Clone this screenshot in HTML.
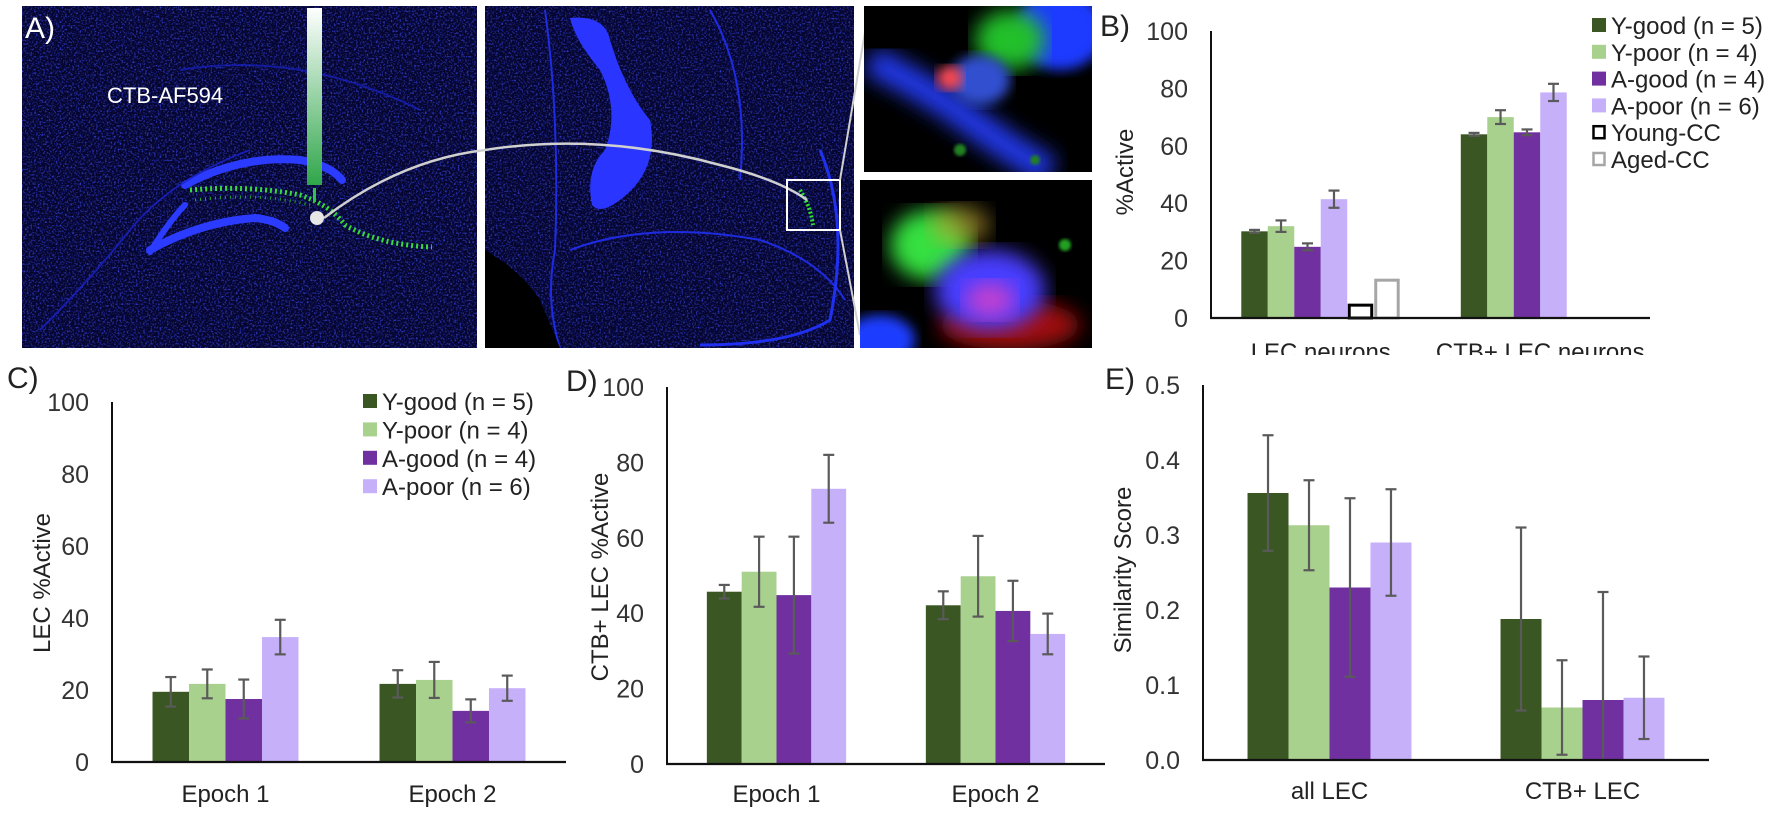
<!DOCTYPE html>
<html>
<head>
<meta charset="utf-8">
<style>
html,body{margin:0;padding:0;background:#fff;}
svg{display:block;font-family:"Liberation Sans",Arial,sans-serif;}
</style>
</head>
<body>
<svg id="fig" width="1784" height="814" viewBox="0 0 1784 814" xmlns="http://www.w3.org/2000/svg">
<defs>
  <filter id="noise" x="0" y="0" width="100%" height="100%">
    <feTurbulence type="fractalNoise" baseFrequency="0.55" numOctaves="2" seed="3" result="t"/>
    <feColorMatrix in="t" type="matrix" values="0 0 0 0 0.05  0 0 0 0 0.08  0 0 0 0 1  0 0 0 2.6 -1.25" />
  </filter>
  <filter id="blur6"><feGaussianBlur stdDeviation="6"/></filter>
  <filter id="blur10"><feGaussianBlur stdDeviation="10"/></filter>
  <filter id="blur2"><feGaussianBlur stdDeviation="1.5"/></filter>
  <linearGradient id="probe" x1="0" y1="0" x2="0" y2="1">
    <stop offset="0" stop-color="#ffffff"/>
    <stop offset="1" stop-color="#2fa64a"/>
  </linearGradient>
  <clipPath id="clipA1"><rect x="22" y="6" width="455" height="342"/></clipPath>
  <clipPath id="clipA2"><rect x="485" y="6" width="369" height="342"/></clipPath>
  <clipPath id="clipI1"><rect x="864" y="6" width="228" height="166"/></clipPath>
  <clipPath id="clipI2"><rect x="860" y="180" width="232" height="168"/></clipPath>
  <clipPath id="clipB"><rect x="1000" y="0" width="784" height="355"/></clipPath>
</defs>

<g clip-path="url(#clipA1)">
  <rect x="22" y="6" width="455" height="342" fill="#05052e"/>
  <rect x="22" y="6" width="455" height="342" filter="url(#noise)" opacity="0.85"/>
  <path d="M185 185 Q240 155 300 160 Q330 165 342 180" stroke="#2b3bff" stroke-width="8" fill="none" stroke-linecap="round"/>
  <path d="M150 250 Q200 222 255 218 Q275 220 285 228" stroke="#2b3bff" stroke-width="8" fill="none" stroke-linecap="round"/>
  <path d="M150 252 Q170 220 185 205" stroke="#2b3bff" stroke-width="6" fill="none" stroke-linecap="round"/>
  <path d="M40 330 Q90 280 130 230 Q170 180 250 150" stroke="#1a22c8" stroke-width="2" fill="none" opacity="0.8"/>
  <path d="M180 70 Q300 50 420 110" stroke="#1a22c8" stroke-width="2" fill="none" opacity="0.7"/>
  <path d="M190 190 Q250 185 300 195 Q330 205 345 225 Q380 245 432 247" stroke="#3cf03c" stroke-width="5" fill="none" stroke-dasharray="2 3" opacity="0.9"/>
  <path d="M195 200 Q260 192 310 205" stroke="#2bd02b" stroke-width="3" fill="none" stroke-dasharray="1 4" opacity="0.8"/>
  <rect x="307" y="8" width="15" height="177" fill="url(#probe)"/>
  <rect x="313" y="188" width="3" height="14" fill="#2fc34a"/>
  <text x="25" y="38" font-size="30" fill="#ffffff">A)</text>
  <text x="107" y="103" font-size="22" fill="#ffffff">CTB-AF594</text>
</g>

<g clip-path="url(#clipA2)">
  <rect x="485" y="6" width="369" height="342" fill="#05052e"/>
  <rect x="485" y="6" width="369" height="342" filter="url(#noise)" opacity="0.8"/>
  <path d="M570 18 Q605 15 610 40 Q625 90 650 120 Q660 170 620 200 Q600 215 592 205 Q585 170 605 150 Q620 110 600 70 Q575 40 570 18 Z" fill="#2a36ff"/>
  <path d="M545 10 Q560 120 555 250 Q545 300 560 348" stroke="#1f2be0" stroke-width="2" fill="none"/>
  <path d="M710 10 Q750 80 740 180" stroke="#1f2be0" stroke-width="2" fill="none"/>
  <path d="M570 250 Q650 220 760 240 Q820 260 845 300" stroke="#1f2be0" stroke-width="2" fill="none"/>
  <path d="M820 150 Q850 220 830 320 Q790 345 700 345" stroke="#2030f0" stroke-width="3" fill="none"/>
  <path d="M485 250 Q520 270 540 300 L560 348 L485 348 Z" fill="#000000"/>
  <path d="M800 190 Q810 205 813 225" stroke="#2ee02e" stroke-width="4" fill="none" stroke-dasharray="2 2"/>
</g>
<path d="M324 218 Q400 160 485 150 Q600 132 720 165 Q780 180 807 200" stroke="#d0d0d0" stroke-width="2.5" fill="none"/>
<circle cx="317" cy="218" r="7" fill="#e6e6e6"/>
<rect x="787" y="180" width="53" height="50" fill="none" stroke="#ffffff" stroke-width="2"/>
<line x1="840" y1="180" x2="865" y2="32" stroke="#d0d0d0" stroke-width="2"/>
<line x1="840" y1="230" x2="860" y2="335" stroke="#d0d0d0" stroke-width="2"/>

<g clip-path="url(#clipI1)">
  <rect x="864" y="6" width="228" height="166" fill="#000"/>
  <path d="M870 60 Q930 90 970 120 Q1010 150 1050 172" stroke="#2438e8" stroke-width="30" fill="none" filter="url(#blur10)"/>
  <ellipse cx="1060" cy="30" rx="45" ry="40" fill="#1f3bff" filter="url(#blur6)"/>
  <ellipse cx="1010" cy="40" rx="35" ry="30" fill="#22c02a" filter="url(#blur10)"/>
  <ellipse cx="980" cy="80" rx="30" ry="25" fill="#3050d0" filter="url(#blur6)"/>
  <ellipse cx="950" cy="78" rx="13" ry="12" fill="#ff4a50" filter="url(#blur6)"/>
  <circle cx="960" cy="150" r="6" fill="#208020" filter="url(#blur2)"/>
  <circle cx="1035" cy="160" r="5" fill="#208020" filter="url(#blur2)"/>
</g>
<g clip-path="url(#clipI2)">
  <rect x="860" y="180" width="232" height="168" fill="#000"/>
  <ellipse cx="1010" cy="325" rx="70" ry="25" fill="#a01010" filter="url(#blur10)"/>
  <ellipse cx="930" cy="245" rx="40" ry="35" fill="#36e040" filter="url(#blur10)"/>
  <ellipse cx="990" cy="290" rx="55" ry="40" fill="#4a3cff" filter="url(#blur10)"/>
  <ellipse cx="990" cy="300" rx="25" ry="18" fill="#c040d0" filter="url(#blur10)"/>
  <ellipse cx="960" cy="225" rx="30" ry="20" fill="#c0a030" filter="url(#blur10)" opacity="0.6"/>
  <ellipse cx="880" cy="340" rx="35" ry="25" fill="#1e3cff" filter="url(#blur6)"/>
  <circle cx="1065" cy="245" r="6" fill="#20a020" filter="url(#blur2)"/>
</g>

<g id="charts"></g>
</svg>

<script>
const seriesNames = ['Y-good (n = 5)', 'Y-poor  (n = 4)', 'A-good (n = 4)', 'A-poor (n = 6)'];
const seriesColors = ['#3a5622', '#a9d18e', '#7030a0', '#c6b0fa'];

const bCategories = ['LEC neurons', 'CTB+ LEC neurons'];
const bYGood = [30.2, 64.0];
const bYGoodErr = [0.5, 0.5];
const bYPoor = [32.0, 70.0];
const bYPoorErr = [2.0, 2.4];
const bAGood = [24.8, 64.7];
const bAGoodErr = [1.2, 1.0];
const bAPoor = [41.4, 78.6];
const bAPoorErr = [3.0, 3.0];
const bYoungCC = [5.0, null];
const bAgedCC = [13.7, null];
const bTicks = [0, 20, 40, 60, 80, 100];

const cCategories = ['Epoch 1', 'Epoch 2'];
const cYGood = [19.5, 21.7];
const cYGoodErr = [4.1, 3.8];
const cYPoor = [21.7, 22.8];
const cYPoorErr = [4.0, 5.0];
const cAGood = [17.5, 14.2];
const cAGoodErr = [5.4, 3.2];
const cAPoor = [34.7, 20.5];
const cAPoorErr = [4.8, 3.5];
const cTicks = [0, 20, 40, 60, 80, 100];

const dCategories = ['Epoch 1', 'Epoch 2'];
const dYGood = [45.7, 42.1];
const dYGoodErr = [1.8, 3.7];
const dYPoor = [51.0, 49.8];
const dYPoorErr = [9.3, 10.7];
const dAGood = [44.8, 40.6];
const dAGoodErr = [15.5, 8.0];
const dAPoor = [73.0, 34.5];
const dAPoorErr = [9.0, 5.4];
const dTicks = [0, 20, 40, 60, 80, 100];

const eCategories = ['all LEC', 'CTB+ LEC'];
const eYGood = [0.356, 0.188];
const eYGoodErr = [0.077, 0.122];
const eYPoor = [0.313, 0.070];
const eYPoorErr = [0.060, 0.063];
const eAGood = [0.230, 0.080];
const eAGoodErr = [0.119, 0.144];
const eAPoor = [0.290, 0.083];
const eAPoorErr = [0.071, 0.055];
const eTicks = [0, 0.1, 0.2, 0.3, 0.4, 0.5];

const NS = 'http://www.w3.org/2000/svg';
const root = document.getElementById('charts');

function mk(parent, tag, attrs, text) {
  const el = document.createElementNS(NS, tag);
  for (const k in attrs) el.setAttribute(k, attrs[k]);
  if (text !== undefined) el.textContent = text;
  parent.appendChild(el);
  return el;
}

function drawChart(cfg) {
  const g = mk(root, 'g', {});
  
  
  if (cfg.clip) g.setAttribute('clip-path', cfg.clip);
  const ymax = cfg.ticks[cfg.ticks.length - 1];
  const yScale = v => cfg.yBase - (v / ymax) * (cfg.yBase - cfg.yTop);
  const catW = (cfg.x1 - cfg.x0) / cfg.categories.length;
  const barW = catW * cfg.groupFrac / cfg.slots;
  const xBar = (ci, si) => cfg.x0 + ci * catW + (catW - barW * cfg.slots) / 2 + si * barW;

  cfg.ticks.forEach(t => {
    const tl = mk(g, 'text', {x: cfg.x0 - 23, y: yScale(t) + 9, 'font-size': 25, fill: '#333', 'text-anchor': 'end'}, cfg.fmt(t));
    
    
  });

  cfg.series.forEach((s, si) => {
    s.values.forEach((v, ci) => {
      if (v === null) return;
      const x = xBar(ci, si);
      const y = yScale(v);
      const r = mk(g, 'rect', {x: x, y: y, width: barW, height: cfg.yBase - y, fill: s.fill});
      if (s.stroke) {
        r.setAttribute('stroke', s.stroke);
        r.setAttribute('stroke-width', 3);
        r.setAttribute('x', x + 2);
        r.setAttribute('width', barW - 4);
        r.setAttribute('y', y + 1.5);
        r.setAttribute('height', Math.max(0, cfg.yBase - y - 1.5));
      }
      
      
      if (s.err) {
        const e = s.err[ci];
        const cx = x + barW / 2;
        const yHi = yScale(v + e);
        const yLo = yScale(Math.max(0, v - e));
        const eb = mk(g, 'g', {stroke: '#5a5a5a', 'stroke-width': 2.2, fill: 'none'});
        
        
        mk(eb, 'line', {x1: cx, x2: cx, y1: yHi, y2: yLo});
        mk(eb, 'line', {x1: cx - 5.5, x2: cx + 5.5, y1: yHi, y2: yHi});
        if (v - e > 0) mk(eb, 'line', {x1: cx - 5.5, x2: cx + 5.5, y1: yLo, y2: yLo});
      }
    });
  });

  const ya = mk(g, 'line', {x1: cfg.x0, x2: cfg.x0, y1: cfg.yTop, y2: cfg.yBase + 1, stroke: '#111', 'stroke-width': 2});
  
  
  const xa = mk(g, 'line', {x1: cfg.x0 - 1, x2: cfg.x1, y1: cfg.yBase, y2: cfg.yBase, stroke: '#111', 'stroke-width': 2.2});
  
  

  cfg.categories.forEach((c, ci) => {
    const cl = mk(g, 'text', {x: cfg.x0 + (ci + 0.5) * catW, y: cfg.catY, 'font-size': 24, fill: '#222', 'text-anchor': 'middle'}, c);
    
    
  });

  const yt = mk(g, 'text', {x: 0, y: 0, 'font-size': 24, fill: '#222', 'text-anchor': 'middle',
    transform: 'translate(' + cfg.titleX + ',' + cfg.titleY + ') rotate(-90)'}, cfg.yTitle);
  
  

  const pl = mk(g, 'text', {x: cfg.letterX, y: cfg.letterY, 'font-size': 30, fill: '#222'}, cfg.letter);
  
  
}

function drawLegend(x, yTop, step, entries) {
  const g = mk(root, 'g', {});
  
  
  entries.forEach((e, i) => {
    const cy = yTop + i * step;
    const it = mk(g, 'g', {});
    
    
    if (e.stroke) {
      mk(it, 'rect', {x: x + 1.5, y: cy - 6, width: 11, height: 12, fill: '#fff', stroke: e.stroke, 'stroke-width': 2.5});
    } else {
      mk(it, 'rect', {x: x, y: cy - 7, width: 14, height: 14, fill: e.fill});
    }
    mk(it, 'text', {x: x + 19, y: cy + 9, 'font-size': 24, fill: '#222'}, e.label);
  });
}

function fourSeries(p) {
  return [
    {key: 'y-good', values: p[0], err: p[1], fill: seriesColors[0]},
    {key: 'y-poor', values: p[2], err: p[3], fill: seriesColors[1]},
    {key: 'a-good', values: p[4], err: p[5], fill: seriesColors[2]},
    {key: 'a-poor', values: p[6], err: p[7], fill: seriesColors[3]}
  ];
}

const bSeries = fourSeries([bYGood, bYGoodErr, bYPoor, bYPoorErr, bAGood, bAGoodErr, bAPoor, bAPoorErr]);
bSeries.push({key: 'young-cc', values: bYoungCC, err: null, fill: '#ffffff', stroke: '#000000'});
bSeries.push({key: 'aged-cc', values: bAgedCC, err: null, fill: '#ffffff', stroke: '#a6a6a6'});
drawChart({name: 'panel-b-chart', x0: 1211, x1: 1650, yBase: 318, yTop: 31, ticks: bTicks, fmt: t => String(t),
  categories: bCategories, series: bSeries, slots: 6, groupFrac: 0.724, catY: 360, clip: 'url(#clipB)',
  yTitle: '%Active', titleX: 1133, titleY: 172, letter: 'B)', letterX: 1100, letterY: 36});
drawLegend(1592, 25, 26.8, [
  {label: seriesNames[0], fill: seriesColors[0]},
  {label: seriesNames[1], fill: seriesColors[1]},
  {label: seriesNames[2], fill: seriesColors[2]},
  {label: seriesNames[3], fill: seriesColors[3]},
  {label: 'Young-CC', stroke: '#000000'},
  {label: 'Aged-CC', stroke: '#a6a6a6'}
]);

drawChart({name: 'panel-c-chart', x0: 112, x1: 566, yBase: 762, yTop: 402, ticks: cTicks, fmt: t => String(t),
  categories: cCategories, series: fourSeries([cYGood, cYGoodErr, cYPoor, cYPoorErr, cAGood, cAGoodErr, cAPoor, cAPoorErr]),
  slots: 4, groupFrac: 0.643, catY: 802,
  yTitle: 'LEC %Active', titleX: 50, titleY: 583, letter: 'C)', letterX: 7, letterY: 388});
drawLegend(363, 401, 28.4, [
  {label: seriesNames[0], fill: seriesColors[0]},
  {label: seriesNames[1], fill: seriesColors[1]},
  {label: seriesNames[2], fill: seriesColors[2]},
  {label: seriesNames[3], fill: seriesColors[3]}
]);

drawChart({name: 'panel-d-chart', x0: 667, x1: 1105, yBase: 764, yTop: 387, ticks: dTicks, fmt: t => String(t),
  categories: dCategories, series: fourSeries([dYGood, dYGoodErr, dYPoor, dYPoorErr, dAGood, dAGoodErr, dAPoor, dAPoorErr]),
  slots: 4, groupFrac: 0.636, catY: 802,
  yTitle: 'CTB+ LEC %Active', titleX: 608, titleY: 577, letter: 'D)', letterX: 566, letterY: 391});

drawChart({name: 'panel-e-chart', x0: 1203, x1: 1709, yBase: 760, yTop: 385, ticks: eTicks, fmt: t => t.toFixed(1),
  categories: eCategories, series: fourSeries([eYGood, eYGoodErr, eYPoor, eYPoorErr, eAGood, eAGoodErr, eAPoor, eAPoorErr]),
  slots: 4, groupFrac: 0.648, catY: 799,
  yTitle: 'Similarity Score', titleX: 1131, titleY: 570, letter: 'E)', letterX: 1105, letterY: 389});
</script>
</body>
</html>
